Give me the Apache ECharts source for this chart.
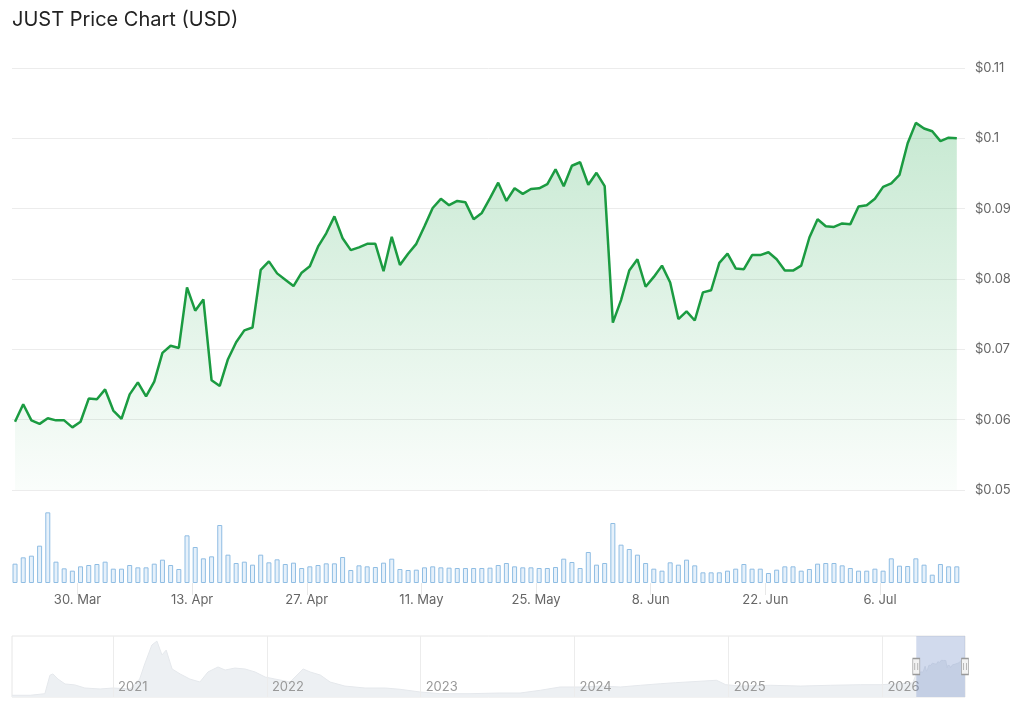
<!DOCTYPE html>
<html>
<head>
<meta charset="utf-8">
<title>JUST Price Chart (USD)</title>
<script src="https://cdn.jsdelivr.net/npm/echarts@6/dist/echarts.min.js"></script>
<style>
  html, body { margin: 0; padding: 0; background: #fff; }
  #chart { width: 1024px; height: 715px; }
</style>
</head>
<body>
<div id="chart"></div>
<script>
const DAY = 86400000;

// daily closes, one per day starting at firstDay
const firstDay = '2026-03-22T09:00:00Z';
const prices = [
  0.0597, 0.0622, 0.0599, 0.0594, 0.0602, 0.0599, 0.0599, 0.0589, 0.0597, 0.0630,
  0.0629, 0.0643, 0.0613, 0.0601, 0.0636, 0.0653, 0.0633, 0.0654, 0.0695, 0.0705,
  0.0702, 0.0788, 0.0755, 0.0771, 0.0656, 0.0648, 0.0686, 0.0710, 0.0727, 0.0731,
  0.0813, 0.0825, 0.0808, 0.0799, 0.0790, 0.0809, 0.0818, 0.0846, 0.0865, 0.0889,
  0.0858, 0.0841, 0.0845, 0.0850, 0.0850, 0.0811, 0.0860, 0.0820, 0.0836, 0.0850,
  0.0875, 0.0901, 0.0914, 0.0905, 0.0911, 0.0909, 0.0885, 0.0894, 0.0915, 0.0937,
  0.0911, 0.0929, 0.0921, 0.0928, 0.0929, 0.0935, 0.0956, 0.0932, 0.0961, 0.0966,
  0.0934, 0.0951, 0.0932, 0.0738, 0.0770, 0.0812, 0.0828, 0.0789, 0.0803, 0.0819,
  0.0795, 0.0743, 0.0754, 0.0741, 0.0781, 0.0784, 0.0823, 0.0836, 0.0815, 0.0814,
  0.0834, 0.0834, 0.0838, 0.0828, 0.0812, 0.0812, 0.0819, 0.0859, 0.0885, 0.0875,
  0.0874, 0.0879, 0.0878, 0.0903, 0.0905, 0.0914, 0.0931, 0.0936, 0.0948, 0.0993,
  0.1022, 0.1014, 0.1010, 0.0996, 0.1001, 0.1000
];

// daily volume (millions USD)
const volumes = [
  5.8, 7.7, 8.2, 11.2, 21.2, 6.4, 4.4, 3.7, 5.0, 5.4,
  5.7, 6.4, 4.3, 4.3, 5.4, 4.7, 4.7, 5.8, 7.0, 5.4,
  4.2, 14.3, 10.8, 7.4, 8.0, 17.4, 8.5, 6.0, 6.4, 5.5,
  8.5, 6.2, 7.1, 5.7, 6.1, 4.5, 5.0, 5.4, 5.9, 5.9,
  7.8, 3.9, 5.3, 5.0, 4.8, 6.1, 7.3, 4.2, 3.9, 4.0,
  4.7, 5.0, 4.7, 4.6, 4.5, 4.5, 4.5, 4.5, 4.6, 5.4,
  6.0, 5.0, 4.7, 4.7, 4.5, 4.5, 4.8, 7.3, 6.3, 4.5,
  9.3, 5.5, 6.0, 18.0, 11.5, 10.2, 8.5, 6.0, 4.3, 3.7,
  6.2, 5.5, 7.0, 5.3, 3.2, 3.2, 3.2, 3.7, 4.3, 5.7,
  4.3, 4.3, 3.0, 4.0, 5.0, 5.0, 3.7, 4.2, 5.8, 6.0,
  6.0, 5.3, 4.5, 3.7, 3.7, 4.3, 3.7, 7.4, 5.2, 5.1,
  7.4, 5.5, 2.5, 5.7, 5.0, 5.0
];

const dateTicks = ['2026-03-30', '2026-04-13', '2026-04-27', '2026-05-11', '2026-05-25', '2026-06-08', '2026-06-22', '2026-07-06'];
const monthNames = ['Jan', 'Feb', 'Mar', 'Apr', 'May', 'Jun', 'Jul', 'Aug', 'Sep', 'Oct', 'Nov', 'Dec'];

// navigator: full history (rough)
const navDates = [
  '2020-05-06', '2020-06-18', '2020-07-23', '2020-08-04', '2020-08-11', '2020-08-23', '2020-09-09', '2020-10-02', '2020-10-26', '2020-12-01',
  '2021-01-01', '2021-02-10', '2021-03-05', '2021-03-17', '2021-04-03', '2021-04-15', '2021-04-27', '2021-05-07', '2021-05-21', '2021-06-09',
  '2021-07-02', '2021-07-26', '2021-08-14', '2021-09-07', '2021-09-24', '2021-10-17', '2021-11-10', '2021-12-04', '2021-12-28', '2022-01-20',
  '2022-02-25', '2022-03-28', '2022-04-14', '2022-05-08', '2022-05-31', '2022-07-05', '2022-08-22', '2022-10-09', '2022-11-13', '2022-12-31',
  '2023-02-16', '2023-04-28', '2023-07-08', '2023-08-25', '2023-10-12', '2023-11-28', '2024-01-14', '2024-03-02', '2024-04-19', '2024-06-06',
  '2024-07-23', '2024-08-28', '2024-12-03', '2024-12-25', '2025-01-30', '2025-04-11', '2025-06-21', '2025-08-31', '2025-11-10', '2025-12-27',
  '2026-02-14', '2026-03-14'
];
const navPrices = [
  0.0044, 0.0044, 0.0085, 0.0556, 0.0590, 0.0460, 0.0333, 0.0310, 0.0230, 0.0205,
  0.0230, 0.0205, 0.0460, 0.0845, 0.1330, 0.1430, 0.1075, 0.1200, 0.0717, 0.0590,
  0.0460, 0.0384, 0.0640, 0.0768, 0.0690, 0.0740, 0.0717, 0.0640, 0.0510, 0.0460,
  0.0384, 0.0717, 0.0640, 0.0560, 0.0384, 0.0280, 0.0230, 0.0230, 0.0197, 0.0128,
  0.0085, 0.0085, 0.0102, 0.0102, 0.0172, 0.0256, 0.0256, 0.0280, 0.0256, 0.0300,
  0.0340, 0.0366, 0.0428, 0.0315, 0.0280, 0.0300, 0.0280, 0.0300, 0.0315, 0.0315,
  0.0340, 0.0360
];
const yearTicks = ['2021-01-01', '2022-01-01', '2023-01-01', '2024-01-01', '2025-01-01', '2026-01-01'];
const navStart = '2020-05-06';
const navEnd = '2026-07-16';

const t0 = Date.parse(firstDay);
const times = prices.map((p, i) => t0 + i * DAY);
const lastTime = times[times.length - 1];
const xMin = t0 - 0.37 * DAY;
const xMax = lastTime + 1.0 * DAY;

const navData = navDates.map((d, i) => [Date.parse(d), navPrices[i]])
  .concat(times.map((t, i) => [t, prices[i]]));
const navMax = 0.156;

const fmtDate = v => {
  const d = new Date(v);
  return d.getUTCDate() + '. ' + monthNames[d.getUTCMonth()];
};

const chart = echarts.init(document.getElementById('chart'));

const handleStyle = { color: '#f2f2f2', borderColor: '#999', borderWidth: 1 };
const gripStyle = { color: 'none', borderColor: '#999', borderWidth: 1 };

const option = {
  animation: false,
  backgroundColor: '#fff',
  textStyle: { fontFamily: 'Inter' },
  title: {
    text: 'JUST Price Chart (USD)',
    left: 7,
    top: 5,
    textStyle: { fontFamily: 'Inter', fontSize: 20, fontWeight: 'normal', color: '#222' }
  },
  grid: [
    { left: 12, right: 59, top: 68, height: 422 },
    { left: 12, right: 59, top: 505, height: 78 },
    { left: 12, right: 59, top: 636, height: 61, show: true, borderColor: '#e6e6e6', borderWidth: 1 }
  ],
  xAxis: [
    { type: 'value', gridIndex: 0, min: xMin, max: xMax, show: false, splitLine: { show: false } },
    {
      type: 'value', gridIndex: 1, min: xMin, max: xMax,
      axisLine: { show: false },
      axisTick: { show: true, length: 12, lineStyle: { color: '#e8e8e8' }, customValues: dateTicks.map(d => Date.parse(d)) },
      axisLabel: {
        customValues: dateTicks.map(d => Date.parse(d)),
        formatter: fmtDate,
        color: '#666', fontSize: 13, margin: 11
      },
      splitLine: { show: false }
    },
    {
      type: 'value', gridIndex: 2, min: Date.parse(navStart), max: Date.parse(navEnd),
      z: 3,
      axisLine: { show: false },
      axisTick: { show: false, customValues: yearTicks.map(d => Date.parse(d)) },
      axisLabel: {
        customValues: yearTicks.map(d => Date.parse(d)),
        formatter: v => String(new Date(v).getUTCFullYear()),
        inside: true, align: 'left', padding: [0, 0, 0, 5], margin: 3,
        color: '#999', fontSize: 13
      },
      splitLine: { show: true, lineStyle: { color: '#ececec', width: 1 } }
    }
  ],
  yAxis: [
    {
      type: 'value', gridIndex: 0, position: 'right',
      min: 0.05, max: 0.11, interval: 0.01,
      axisLine: { show: false }, axisTick: { show: false },
      axisLabel: {
        formatter: v => '$' + parseFloat(v.toFixed(2)),
        color: '#666', fontSize: 13, margin: 10
      },
      splitLine: { lineStyle: { color: '#ececec', width: 1 } }
    },
    { type: 'value', gridIndex: 1, min: 0, max: 23.4, show: false, splitLine: { show: false } },
    { type: 'value', gridIndex: 2, min: 0, max: navMax, show: false, splitLine: { show: false } }
  ],
  series: [
    {
      name: 'Price',
      type: 'line',
      xAxisIndex: 0, yAxisIndex: 0,
      data: times.map((t, i) => [t, prices[i]]),
      showSymbol: false,
      lineStyle: { color: '#1b9b41', width: 2.5 },
      areaStyle: {
        color: new echarts.graphic.LinearGradient(0, 0, 0, 1, [
          { offset: 0, color: 'rgba(34,168,77,0.36)' },
          { offset: 1, color: 'rgba(34,168,77,0.03)' }
        ])
      },
      z: 3
    },
    {
      name: 'Volume',
      type: 'bar',
      xAxisIndex: 1, yAxisIndex: 1,
      data: times.map((t, i) => [t, volumes[i]]),
      barWidth: 5,
      itemStyle: { color: '#e6f1fb', borderColor: '#8fbde3', borderWidth: 1 }
    },
    {
      name: 'Navigator',
      type: 'line',
      xAxisIndex: 2, yAxisIndex: 2,
      data: navData,
      showSymbol: false,
      z: 2,
      lineStyle: { color: '#e5e8ec', width: 1 },
      areaStyle: { color: '#edf0f3', opacity: 1 }
    },
    {
      name: 'Selection',
      type: 'line',
      xAxisIndex: 2, yAxisIndex: 2,
      data: [],
      z: 5,
      markArea: {
        silent: true,
        z: 4,
        itemStyle: { color: 'rgba(102,133,194,0.3)' },
        data: [[{ xAxis: t0 }, { xAxis: Date.parse(navEnd) }]]
      },
      markPoint: {
        silent: true,
        z: 6,
        label: { show: false },
        data: [
          { coord: [t0, navMax / 2], symbol: 'rect', symbolSize: [7, 16], itemStyle: handleStyle },
          { coord: [Date.parse(navEnd), navMax / 2], symbol: 'rect', symbolSize: [7, 16], itemStyle: handleStyle },
          { coord: [t0, navMax / 2], symbol: 'path://M0,0L0,10M3,0L3,10', symbolSize: [3, 7], itemStyle: gripStyle },
          { coord: [Date.parse(navEnd), navMax / 2], symbol: 'path://M0,0L0,10M3,0L3,10', symbolSize: [3, 7], itemStyle: gripStyle }
        ]
      }
    }
  ]
};

chart.setOption(option);
window.addEventListener('resize', () => chart.resize());
</script>
</body>
</html>
